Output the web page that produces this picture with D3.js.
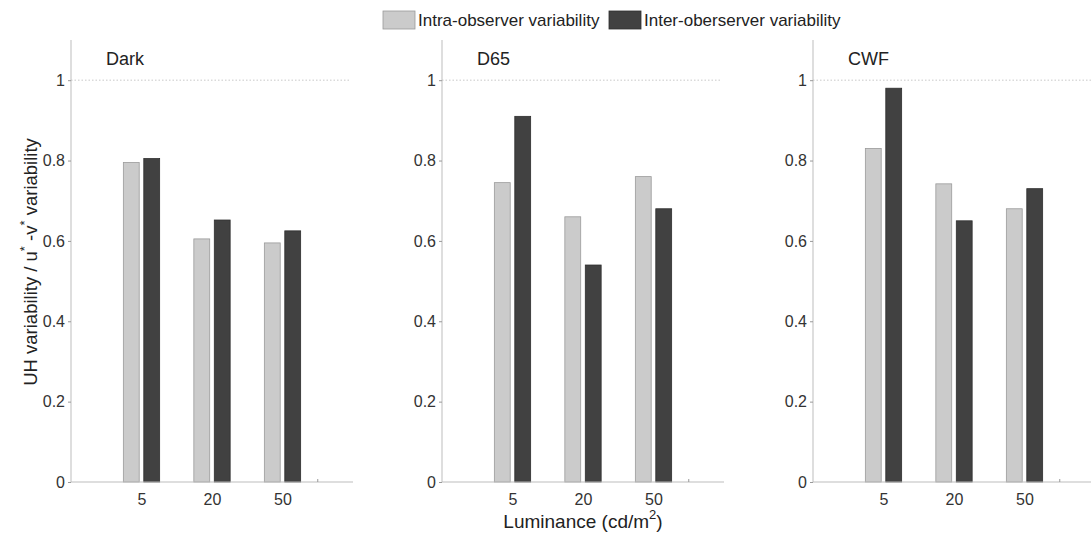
<!DOCTYPE html>
<html>
<head>
<meta charset="utf-8">
<script src="https://cdn.jsdelivr.net/npm/d3@7"></script>
<style>
  body { margin: 0; background: #fff; }
  text { font-family: "Liberation Sans", Arial, sans-serif; }
</style>
</head>
<body>
<div id="vis"></div>
<script>
// Frame size
const FRAME_WIDTH = 1091;
const FRAME_HEIGHT = 533;

// Data
const panels = ["Dark", "D65", "CWF"];
const luminance = ["5", "20", "50"];
const series = ["Intra-observer variability", "Inter-oberserver variability"];
const intraValues = [
  [0.795, 0.605, 0.595],
  [0.745, 0.660, 0.760],
  [0.830, 0.742, 0.680]
];
const interValues = [
  [0.805, 0.652, 0.625],
  [0.910, 0.540, 0.680],
  [0.980, 0.650, 0.730]
];
const yTicks = [0, 0.2, 0.4, 0.6, 0.8, 1];

// Layout of each panel
const PANEL_LEFT = [71, 442, 813];
const PANEL_W = 282;
const TOP = 40;
const BOTTOM = 482;

const COLORS = ["#cbcbcb", "#414141"];
const STROKES = ["#9a9a9a", "#2e2e2e"];

const svg = d3.select("#vis")
  .append("svg")
    .attr("width", FRAME_WIDTH)
    .attr("height", FRAME_HEIGHT);

const Y_SCALE = d3.scaleLinear().domain([0, 1.1]).range([BOTTOM, TOP]);

panels.forEach((name, p) => {
  const X_SCALE = d3.scaleLinear().domain([0, 4])
    .range([PANEL_LEFT[p], PANEL_LEFT[p] + PANEL_W]);
  const g = svg.append("g");

  // dotted line at 1
  g.append("line")
    .attr("x1", X_SCALE(0)).attr("x2", X_SCALE(3.95))
    .attr("y1", Y_SCALE(1)).attr("y2", Y_SCALE(1))
    .attr("stroke", "#c8c8c8")
    .attr("stroke-dasharray", "1.5,2");

  // bars
  const bw = 0.225;
  const off = 0.145;
  [intraValues[p], interValues[p]].forEach((vals, s) => {
    g.selectAll(".bar" + s)
      .data(vals)
      .enter()
      .append("rect")
        .attr("x", (d, i) => X_SCALE(i + 1 + (s === 0 ? -off : off) - bw / 2))
        .attr("y", (d) => Y_SCALE(d))
        .attr("width", X_SCALE(bw) - X_SCALE(0))
        .attr("height", (d) => BOTTOM - Y_SCALE(d))
        .attr("fill", COLORS[s])
        .attr("stroke", STROKES[s])
        .attr("stroke-width", 0.8);
  });

  // y axis
  const yAxis = g.append("g")
    .attr("transform", "translate(" + PANEL_LEFT[p] + ",0)")
    .call(d3.axisLeft(Y_SCALE).tickValues(yTicks).tickSize(3).tickPadding(3)
      .tickFormat((d) => d === 0 ? "0" : d === 1 ? "1" : d3.format(".1f")(d)));
  yAxis.select(".domain").attr("stroke", "#bdbdbd").attr("d", "M0," + TOP + "V" + BOTTOM);
  yAxis.selectAll(".tick line").attr("stroke", "#999");
  yAxis.selectAll("text").attr("font-size", 16).attr("fill", "#333")
    .attr("font-family", "Liberation Sans, Arial, sans-serif");

  // x axis
  const xAxis = g.append("g")
    .attr("transform", "translate(0," + BOTTOM + ")")
    .call(d3.axisBottom(X_SCALE).tickValues([1, 2, 3]).tickSize(0).tickPadding(12)
      .tickFormat((d, i) => luminance[i]));
  xAxis.select(".domain").attr("stroke", "#bdbdbd").attr("d", "M" + X_SCALE(0) + ",0H" + X_SCALE(4));
  xAxis.selectAll("text").attr("font-size", 16).attr("fill", "#333")
    .attr("font-family", "Liberation Sans, Arial, sans-serif");
  // small tick at the right end
  g.append("line")
    .attr("x1", X_SCALE(3.5)).attr("x2", X_SCALE(3.5))
    .attr("y1", BOTTOM).attr("y2", BOTTOM - 3)
    .attr("stroke", "#999");

  // panel title
  g.append("text")
    .attr("x", PANEL_LEFT[p] + 35)
    .attr("y", 65)
    .attr("font-size", 18)
    .attr("fill", "#222")
    .text(name);
});

// y label
const yl = svg.append("text")
  .attr("transform", "translate(37,262) rotate(-90)")
  .attr("text-anchor", "middle")
  .attr("font-size", 18.5)
  .attr("fill", "#222");
yl.append("tspan").text("UH variability / u");
yl.append("tspan").attr("dy", -8).attr("font-size", 13).text("*");
yl.append("tspan").attr("dy", 8).text(" -v");
yl.append("tspan").attr("dy", -8).attr("font-size", 13).text("*");
yl.append("tspan").attr("dy", 8).text(" variability");

// x label
const xl = svg.append("text")
  .attr("x", 583)
  .attr("y", 528)
  .attr("text-anchor", "middle")
  .attr("font-size", 19)
  .attr("fill", "#222");
xl.append("tspan").text("Luminance (cd/m");
xl.append("tspan").attr("dy", -9).attr("font-size", 13).text("2");
xl.append("tspan").attr("dy", 9).text(")");

// legend
const legendX = [383, 609];
series.forEach((s, i) => {
  svg.append("rect")
    .attr("x", legendX[i]).attr("y", 11)
    .attr("width", 32).attr("height", 18)
    .attr("fill", COLORS[i])
    .attr("stroke", STROKES[i])
    .attr("stroke-width", 0.8);
  svg.append("text")
    .attr("x", legendX[i] + 35).attr("y", 26)
    .attr("font-size", 17)
    .attr("fill", "#222")
    .text(s);
});
</script>
</body>
</html>
